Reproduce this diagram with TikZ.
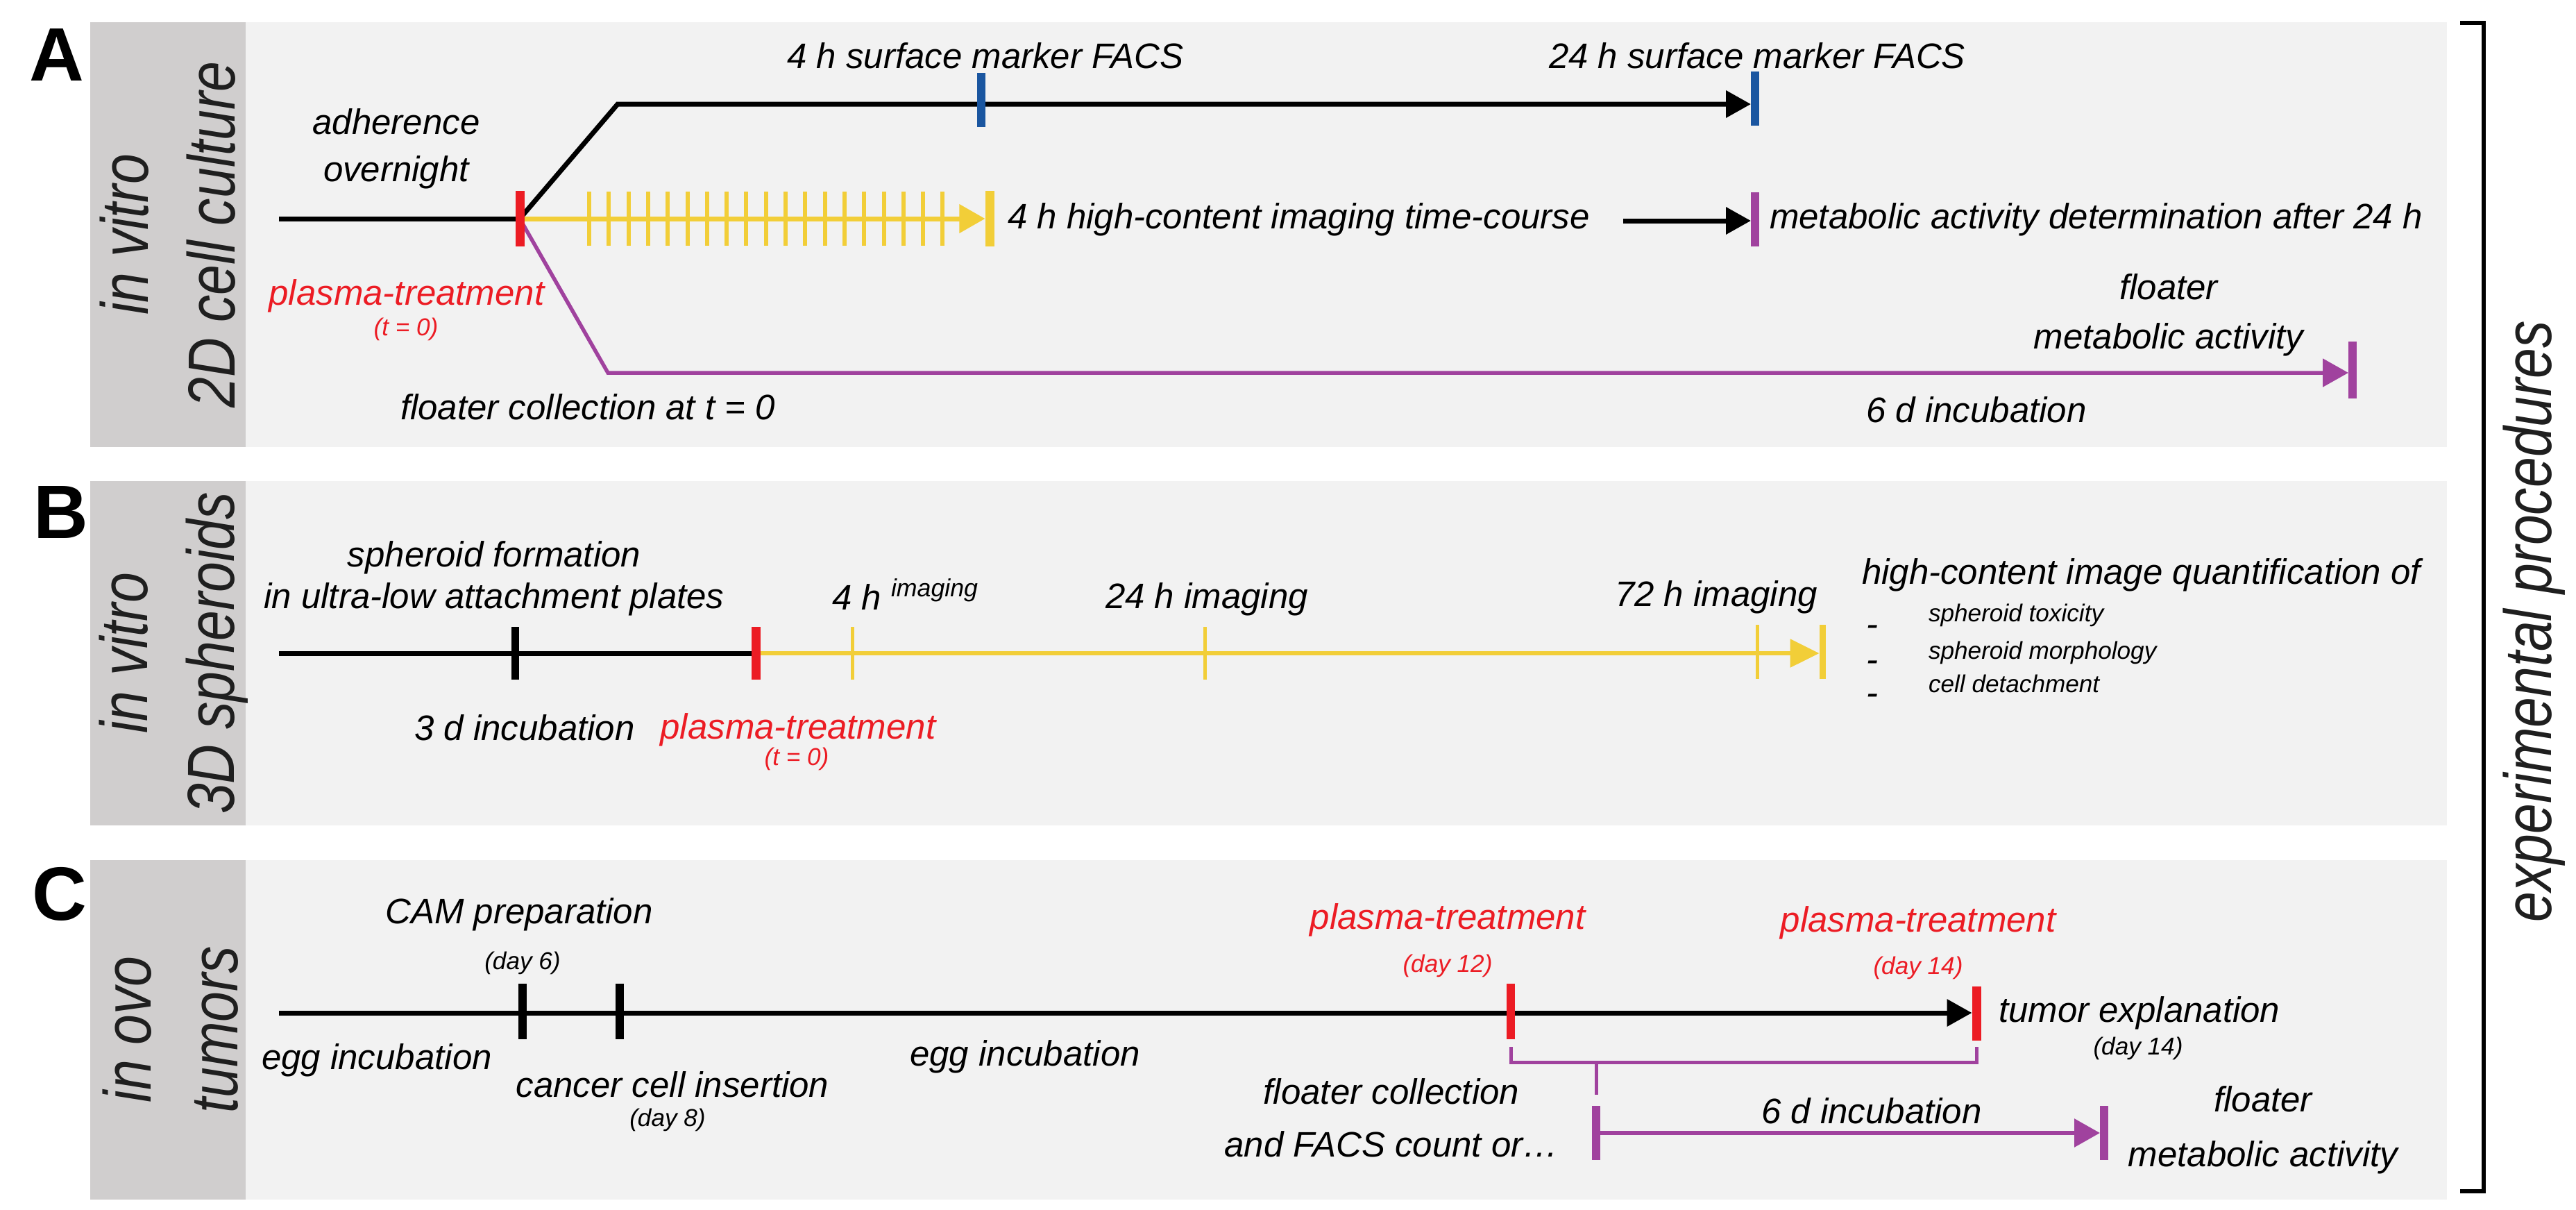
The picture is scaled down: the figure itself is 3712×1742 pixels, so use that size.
\documentclass[tikz,border=0pt]{standalone}
\usepackage{fontspec}
\setmainfont{Liberation Sans}
\newfontfamily\narrowfont[FakeStretch=0.82]{Liberation Sans}
\usetikzlibrary{arrows.meta}
\definecolor{pbg}{RGB}{242,242,242}
\definecolor{lbg}{RGB}{208,206,206}
\definecolor{tred}{RGB}{236,28,36}
\definecolor{tyel}{RGB}{242,206,56}
\definecolor{tpur}{RGB}{160,66,158}
\definecolor{tblu}{RGB}{26,86,160}
\pgfdeclarelayer{back}
\pgfdeclarelayer{lines}
\pgfsetlayers{back,lines,main}
\tikzset{
  txt/.style={font=\fontsize{14.5}{17}\selectfont\itshape, inner sep=0pt, outer sep=0pt, align=center},
  smalltxt/.style={font=\fontsize{10}{12}\selectfont\itshape, inner sep=0pt, outer sep=0pt},
  lab/.style={font={\narrowfont\fontsize{27.3}{35.6}\selectfont\itshape}, text=black!88, rotate=90, align=center, inner sep=0pt},
  letter/.style={font=\fontsize{31}{31}\selectfont\bfseries, inner sep=0pt},
  tk/.style={rectangle, fill=#1, draw=none, minimum width=0.12cm, minimum height=0.78cm, inner sep=0pt, outer sep=0pt},
  blk/.style={line width=0.07cm, black},
  yel/.style={line width=0.07cm, tyel},
  pur/.style={line width=0.055cm, tpur},
  tipb/.style={-{Triangle[length=0.36cm,width=0.38cm]}},
}
\begin{document}
\begin{tikzpicture}[x=0.01cm,y=-0.01cm]
\useasboundingbox (0,0) rectangle (3712,1742);
\begin{pgfonlayer}{back}
\fill[white] (0,0) rectangle (3712,1742);
\fill[pbg] (354,32) rectangle (3526,644);
\fill[lbg] (130,32) rectangle (354,644);
\fill[pbg] (354,693) rectangle (3526,1189);
\fill[lbg] (130,693) rectangle (354,1189);
\fill[pbg] (354,1239) rectangle (3526,1728);
\fill[lbg] (130,1239) rectangle (354,1728);
\end{pgfonlayer}

% panel letters and side labels
\node[letter] (LA) at (82,79) {A};
\node[letter] (LB) at (88,738) {B};
\node[letter] (LC) at (86,1288) {C};
\node[lab] (labA) at (242,338) {in vitro\\2D cell culture};
\node[lab] (labB) at (250,941) {in vitro\\3D spheroids};
\node[lab] (labC) at (246,1483) {in ovo\\tumors};
\node[lab] (exp) at (3652,895) {experimental procedures};
\draw[line width=0.06cm] (3545,33) -- (3579,33) -- (3579,1716) -- (3545,1716);

% ---------------- panel A ----------------
\coordinate (aS) at (402,315);
\coordinate (aUp) at (890,150);
\coordinate (aDn) at (876,537);
\coordinate (aA2) at (2339,318);
\node[tk=tred, minimum width=0.13cm, minimum height=0.8cm] (a0) at (749,315) {};
\foreach \i in {0,...,18} \node[tk=tyel, minimum width=0.06cm] (ay\i) at ({849+28.3*\i},315) {};
\node[tk=tyel, minimum width=0.13cm, minimum height=0.8cm] (aYE) at (1426,315) {};
\node[tk=tblu] (aB1) at (1414,144) {};
\node[tk=tblu] (aB2) at (2529,142) {};
\node[tk=tpur] (aP1) at (2529,316) {};
\node[tk=tpur, minimum height=0.81cm] (aP2) at (3390,533) {};
\begin{pgfonlayer}{lines}
\draw[blk] (aS) -- (a0.center);
\draw[blk, tipb] (a0.center) -- (aUp) -- (aUp -| aB2.west);
\draw[yel, -{Triangle[length=0.37cm,width=0.40cm]}] (a0.center) -- (aYE.west);
\draw[pur, -{Triangle[length=0.37cm,width=0.40cm]}] (a0.center) -- (aDn) -- (aDn -| aP2.west);
\draw[blk, tipb] (aA2) -- (aA2 -| aP1.west);
\end{pgfonlayer}
\node[txt, anchor=base] (tA1) at (1420,98) {4 h surface marker FACS};
\node[txt, anchor=base] (tA2) at (2532,98) {24 h surface marker FACS};
\node[txt] (tA3) at (571,214) {adherence\\[2.3pt]overnight};
\node[txt, anchor=base, text=tred] (tA4) at (586,439) {plasma-treatment};
\node[smalltxt, anchor=base, text=tred] (tA5) at (585,483) {(t = 0)};
\node[txt, anchor=base] (tA6) at (847,604) {floater collection at t = 0};
\node[txt, anchor=base west] (tA7) at (1452,329) {4 h high-content imaging time-course};
\node[txt, anchor=base west] (tA8) at (2550,329) {metabolic activity determination after 24 h};
\node[txt] (tA9) at (3125,454) {floater\\[3.1pt]metabolic activity};
\node[txt, anchor=base] (tA10) at (2848,608) {6 d incubation};

% ---------------- panel B ----------------
\coordinate (bS) at (402,941);
\node[tk=black, minimum width=0.11cm, minimum height=0.76cm] (bK) at (742,941) {};
\node[tk=tred, minimum width=0.13cm, minimum height=0.76cm] (b0) at (1089,941) {};
\node[tk=tyel, minimum width=0.05cm, minimum height=0.76cm] (by1) at (1228,941) {};
\node[tk=tyel, minimum width=0.05cm, minimum height=0.76cm] (by2) at (1736,941) {};
\node[tk=tyel, minimum width=0.05cm, minimum height=0.77cm] (by3) at (2532,939) {};
\node[tk=tyel, minimum width=0.09cm, minimum height=0.77cm] (bYE) at (2626,939) {};
\begin{pgfonlayer}{lines}
\draw[blk] (bS) -- (b0.center);
\draw[line width=0.06cm, tyel, -{Triangle[length=0.42cm,width=0.40cm]}] (b0.center) -- (b0.center -| bYE.west);
\end{pgfonlayer}
\node[txt] (tB1) at (712,833) {spheroid formation\\in ultra-low attachment plates};
\node[txt, anchor=base west] (tB2) at (1199,878) {4 h \textsuperscript{imaging}};
\node[txt, anchor=base] (tB3) at (1739,876) {24 h imaging};
\node[txt, anchor=base] (tB4) at (2473,873) {72 h imaging};
\node[txt, anchor=base west] (tB5) at (2683,841) {high-content image quantification of};
\node[txt, anchor=base west] (dB1) at (2689,916) {-};
\node[txt, anchor=base west] (dB2) at (2689,967) {-};
\node[txt, anchor=base west] (dB3) at (2689,1015) {-};
\node[smalltxt, anchor=base west] (tB6) at (2779,895) {spheroid toxicity};
\node[smalltxt, anchor=base west] (tB7) at (2779,949) {spheroid morphology};
\node[smalltxt, anchor=base west] (tB8) at (2779,997) {cell detachment};
\node[txt, anchor=base] (tB9) at (756,1066) {3 d incubation};
\node[txt, anchor=base, text=tred] (tB10) at (1150,1064) {plasma-treatment};
\node[smalltxt, anchor=base, text=tred] (tB11) at (1148,1102) {(t = 0)};

% ---------------- panel C ----------------
\coordinate (cS) at (402,1459);
\node[tk=black, minimum width=0.12cm, minimum height=0.8cm] (cK1) at (753,1457) {};
\node[tk=black, minimum width=0.12cm, minimum height=0.8cm] (cK2) at (893,1457) {};
\node[tk=tred, minimum width=0.12cm, minimum height=0.8cm] (cR1) at (2177,1457) {};
\node[tk=tred, minimum width=0.13cm, minimum height=0.78cm] (cR2) at (2848,1460) {};
\node[tk=tpur] (cP1) at (2300,1632) {};
\node[tk=tpur] (cP2) at (3032,1632) {};
\coordinate (cb1) at (2177,1508);
\coordinate (cb2) at (2848,1508);
\coordinate (cstem) at (2300,1530);
\begin{pgfonlayer}{lines}
\draw[blk, tipb] (cS) -- (cS -| cR2.west);
\draw[line width=0.05cm, tpur] (cb1) -- ++(0,22) -| (cb2);
\draw[line width=0.05cm, tpur] (cstem) -- ++(0,47);
\draw[line width=0.06cm, tpur, -{Triangle[length=0.37cm,width=0.40cm]}] (cP1.center) -- (cP2.west);
\end{pgfonlayer}
\node[txt, anchor=base] (tC1) at (748,1330) {CAM preparation};
\node[smalltxt, anchor=base] (tC2) at (753,1396) {(day 6)};
\node[txt, anchor=base] (tC3) at (543,1540) {egg incubation};
\node[txt, anchor=base] (tC4) at (969,1580) {cancer cell insertion};
\node[smalltxt, anchor=base] (tC5) at (962,1622) {(day 8)};
\node[txt, anchor=base] (tC6) at (1477,1535) {egg incubation};
\node[txt, anchor=base, text=tred] (tC7) at (2086,1338) {plasma-treatment};
\node[smalltxt, anchor=base, text=tred] (tC8) at (2086,1400) {(day 12)};
\node[txt, anchor=base, text=tred] (tC9) at (2764,1342) {plasma-treatment};
\node[smalltxt, anchor=base, text=tred] (tC10) at (2764,1403) {(day 14)};
\node[txt, anchor=base west] (tC11) at (2880,1472) {tumor explanation};
\node[smalltxt, anchor=base] (tC12) at (3081,1519) {(day 14)};
\node[txt] (tC13) at (2005,1610) {floater collection\\[4.6pt]and FACS count or…};
\node[txt, anchor=base] (tC14) at (2697,1618) {6 d incubation};
\node[txt] (tC15) at (3261,1628) {floater\\[5.4pt]metabolic activity};
\end{tikzpicture}
\end{document}
